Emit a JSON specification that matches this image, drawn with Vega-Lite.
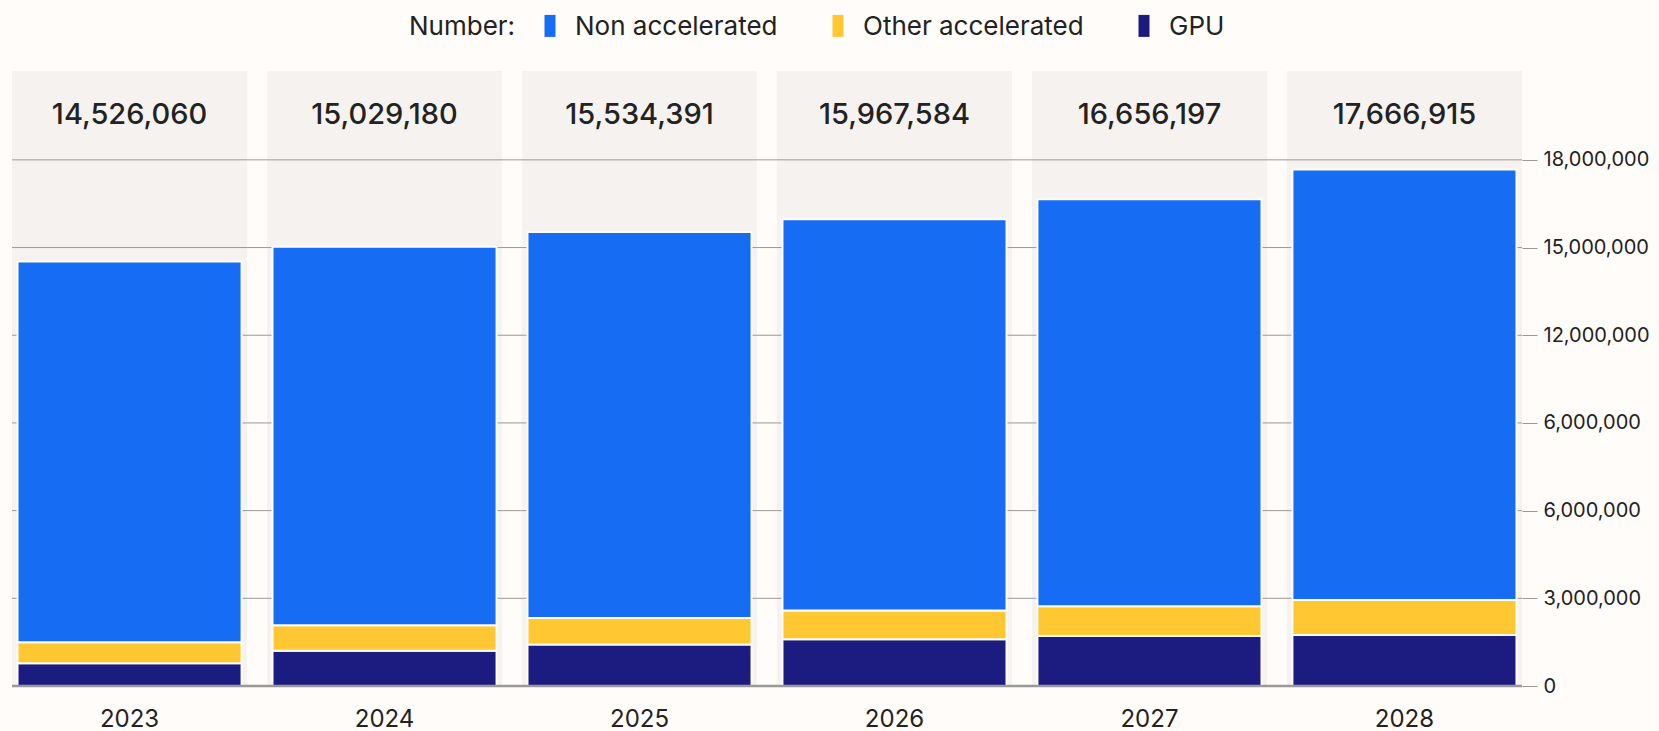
{
  "$schema": "https://vega.github.io/schema/vega-lite/v6.json",
  "autosize": {"type": "none"},
  "width": 1510,
  "height": 615,
  "padding": {"left": 12, "top": 71, "right": 137, "bottom": 45},
  "background": "#fffcf9",
  "config": {"view": {"stroke": null}, "font": "Inter"},
  "datasets": {
    "segments": [
      {"year": "2023", "type": "GPU", "rank": 1, "value": 780000},
      {"year": "2023", "type": "Other accelerated", "rank": 2, "value": 715000},
      {"year": "2023", "type": "Non accelerated", "rank": 3, "value": 13031060},
      {"year": "2024", "type": "GPU", "rank": 1, "value": 1210000},
      {"year": "2024", "type": "Other accelerated", "rank": 2, "value": 870000},
      {"year": "2024", "type": "Non accelerated", "rank": 3, "value": 12949180},
      {"year": "2025", "type": "GPU", "rank": 1, "value": 1420000},
      {"year": "2025", "type": "Other accelerated", "rank": 2, "value": 910000},
      {"year": "2025", "type": "Non accelerated", "rank": 3, "value": 13204391},
      {"year": "2026", "type": "GPU", "rank": 1, "value": 1600000},
      {"year": "2026", "type": "Other accelerated", "rank": 2, "value": 980000},
      {"year": "2026", "type": "Non accelerated", "rank": 3, "value": 13387584},
      {"year": "2027", "type": "GPU", "rank": 1, "value": 1710000},
      {"year": "2027", "type": "Other accelerated", "rank": 2, "value": 1020000},
      {"year": "2027", "type": "Non accelerated", "rank": 3, "value": 13926197},
      {"year": "2028", "type": "GPU", "rank": 1, "value": 1745000},
      {"year": "2028", "type": "Other accelerated", "rank": 2, "value": 1195000},
      {"year": "2028", "type": "Non accelerated", "rank": 3, "value": 14726915}
    ],
    "grid": [
      {"v": 3000000}, {"v": 6000000}, {"v": 9000000}, {"v": 12000000}, {"v": 15000000}, {"v": 18000000}
    ],
    "base": [{"v": 0}]
  },
  "data": {"name": "segments"},
  "layer": [
    {
      "transform": [{"aggregate": [{"op": "sum", "field": "value", "as": "total"}], "groupby": ["year"]}],
      "mark": {"type": "bar", "color": "#f6f2ef"},
      "encoding": {
        "x": {"field": "year", "type": "ordinal", "title": null,
              "scale": {"paddingInner": 0.078, "paddingOuter": 0},
              "axis": {"labelAngle": 0, "domain": false, "ticks": false, "labelPadding": 21, "grid": false,
                       "labelFontSize": 24, "labelColor": "#222222", "labelFont": "Inter"}},
        "y": {"datum": 21040000, "type": "quantitative", "title": null,
              "scale": {"domain": [0, 21040000], "nice": false, "zero": true},
              "axis": {"orient": "right", "values": [0, 3000000, 6000000, 9000000, 12000000, 15000000, 18000000],
                       "labelExpr": "datum.value == 9000000 ? '6,000,000' : format(datum.value, ',')",
                       "grid": false, "domain": false, "tickSize": 15, "tickColor": "#999999",
                       "labelPadding": 6, "labelFontSize": 20, "labelColor": "#222222", "labelFont": "Inter"}}
      }
    },
    {
      "data": {"name": "grid"},
      "mark": {"type": "rule", "color": "#999999", "strokeWidth": 1},
      "encoding": {"y": {"field": "v", "type": "quantitative", "title": null}}
    },
    {
      "mark": {"type": "bar", "stroke": "#fffcf9", "strokeWidth": 2, "width": {"band": 0.953}},
      "encoding": {
        "x": {"field": "year", "type": "ordinal", "title": null},
        "y": {"field": "value", "type": "quantitative", "stack": "zero", "title": null},
        "color": {"field": "type", "type": "nominal",
                  "scale": {"domain": ["Non accelerated", "Other accelerated", "GPU"],
                            "range": ["#166cf3", "#ffc833", "#1c1c80"]},
                  "legend": {"orient": "none", "legendX": 397, "legendY": -57, "direction": "horizontal",
                             "title": "Number:", "titleOrient": "left", "titleFontSize": 26,
                             "titleFontWeight": "normal", "titleColor": "#222222", "titleFont": "Inter",
                             "titlePadding": 21, "labelFontSize": 26, "labelColor": "#222222", "labelFont": "Inter",
                             "labelLimit": 400,
                             "symbolType": "M-0.5,-1.1H0.5V0.9H-0.5Z", "symbolSize": 484, "symbolStrokeWidth": 0,
                             "symbolOpacity": 1, "labelOffset": 12, "columnPadding": 47}},
        "order": {"field": "rank", "type": "quantitative"}
      }
    },
    {
      "transform": [{"aggregate": [{"op": "sum", "field": "value", "as": "total"}], "groupby": ["year"]}],
      "mark": {"type": "text", "fontSize": 29, "fontWeight": 500, "color": "#222222", "baseline": "middle", "font": "Inter"},
      "encoding": {
        "x": {"field": "year", "type": "ordinal", "title": null},
        "y": {"datum": 19550000, "type": "quantitative", "title": null},
        "text": {"field": "total", "type": "quantitative", "format": ","}
      }
    },
    {
      "data": {"name": "base"},
      "mark": {"type": "rule", "color": "#999999", "strokeWidth": 2.5},
      "encoding": {"y": {"field": "v", "type": "quantitative", "title": null}}
    }
  ]
}
